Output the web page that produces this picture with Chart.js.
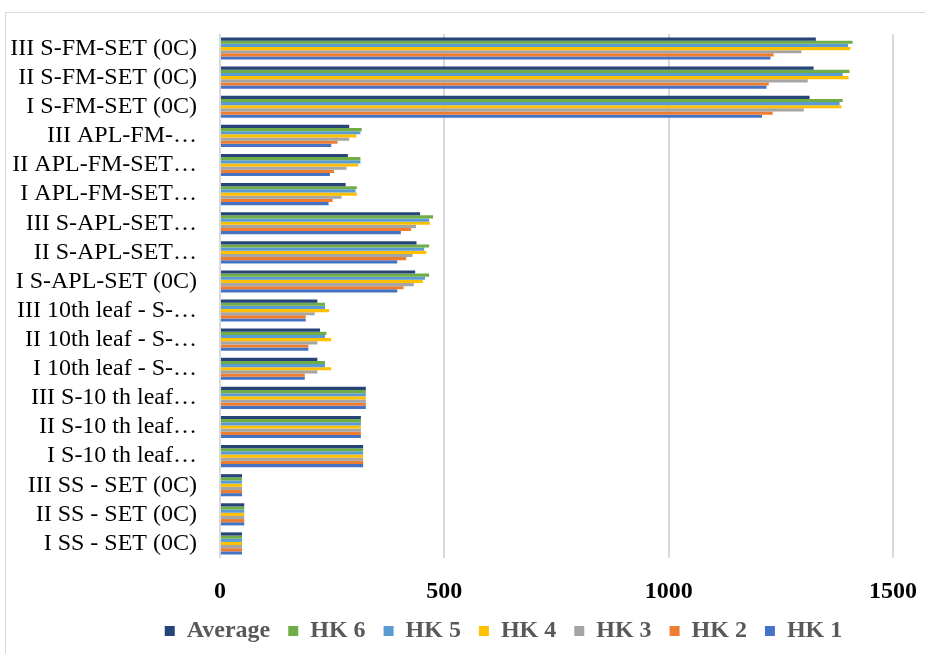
<!DOCTYPE html>
<html>
<head>
<meta charset="utf-8">
<script src="https://cdn.jsdelivr.net/npm/chart.js@4/dist/chart.umd.min.js"></script>
<style>
  html, body { margin: 0; padding: 0; background: #ffffff; overflow: hidden; }
  #wrap { position: relative; width: 925px; height: 654px; }
  #frame { position: absolute; left: 5px; top: 12px; width: 1000px; height: 800px;
           border: 1px solid #d9d9d9; box-sizing: border-box; }
  canvas { position: absolute; left: 0; top: 0; }
</style>
</head>
<body>
<div id="wrap">
  <div id="frame"></div>
  <canvas id="chart" width="925" height="654"></canvas>
</div>
<script>
// Sample groups, listed top to bottom
const categories = [
  "III S-FM-SET (0C)", "II S-FM-SET (0C)", "I S-FM-SET (0C)",
  "III APL-FM-…", "II APL-FM-SET…", "I APL-FM-SET…",
  "III S-APL-SET…", "II S-APL-SET…", "I S-APL-SET (0C)",
  "III 10th leaf - S-…", "II 10th leaf - S-…", "I 10th leaf - S-…",
  "III S-10 th leaf…", "II S-10 th leaf…", "I S-10 th leaf…",
  "III SS - SET (0C)", "II SS - SET (0C)", "I SS - SET (0C)"
];

const average = [1328, 1323, 1314, 288, 285, 280, 446, 438, 435, 217, 223, 217, 325, 314, 319, 49, 54, 49];
const hk6     = [1410, 1403, 1388, 316, 313, 305, 475, 466, 466, 234, 237, 234, 325, 314, 319, 49, 54, 49];
const hk5     = [1400, 1388, 1381, 313, 313, 302, 466, 455, 457, 234, 234, 234, 325, 314, 319, 49, 54, 49];
const hk4     = [1405, 1401, 1385, 304, 308, 305, 468, 460, 452, 243, 248, 248, 325, 314, 319, 49, 54, 49];
const hk3     = [1296, 1310, 1301, 288, 282, 271, 437, 429, 432, 211, 217, 217, 325, 314, 319, 49, 54, 49];
const hk2     = [1234, 1223, 1232, 262, 254, 251, 426, 415, 409, 191, 197, 189, 325, 314, 319, 49, 54, 49];
const hk1     = [1227, 1218, 1208, 248, 245, 242, 403, 395, 395, 191, 197, 189, 325, 314, 319, 49, 54, 49];

const seriesNames = ["Average", "HK 6", "HK 5", "HK 4", "HK 3", "HK 2", "HK 1"];
const seriesValues = [average, hk6, hk5, hk4, hk3, hk2, hk1];
const seriesColors = ["#264478", "#70AD47", "#5B9BD5", "#FFC000", "#A5A5A5", "#ED7D31", "#4472C4"];

const xTicks = [0, 500, 1000, 1500];

const LEGEND_HEIGHT = 53;   // fixed legend band height
const LEGEND_SHIFT = 57;    // legend row sits right of the canvas centre

// Gives the legend a fixed height and moves its row sideways
const legendPlacer = {
  id: "legendPlacer",
  beforeLayout(chart) {
    const lg = chart.legend;
    if (lg && !lg._fixedFit) {
      const origFit = lg.fit.bind(lg);
      lg.fit = function () { origFit(); this.height = LEGEND_HEIGHT; };
      lg._fixedFit = true;
    }
  },
  afterLayout(chart) {
    const lg = chart.legend;
    if (lg) { lg.left += LEGEND_SHIFT; lg.right += LEGEND_SHIFT; }
  }
};

const datasets = seriesNames.map((name, i) => ({
  label: name,
  data: seriesValues[i],
  backgroundColor: seriesColors[i],
  borderWidth: 0,
  categoryPercentage: 0.76,
  barPercentage: 1.0
}));

new Chart(document.getElementById("chart"), {
  type: "bar",
  data: { labels: categories, datasets },
  plugins: [legendPlacer],
  options: {
    indexAxis: "y",
    responsive: false,
    animation: false,
    layout: { padding: { top: 34, right: 32, left: 0, bottom: 0 } },
    scales: {
      x: {
        min: 0, max: 1500,
        afterBuildTicks: (scale) => { scale.ticks = xTicks.map(v => ({ value: v })); },
        grid: { color: "#d9d9d9", lineWidth: 2, drawTicks: false },
        border: { display: false },
        ticks: {
          padding: 19,
          color: "#000000",
          callback: (v) => String(v),
          font: { family: "Liberation Serif", size: 24, weight: "bold" }
        },
        afterFit: (scale) => {
          scale.height = 43;
          scale.paddingLeft = 0;
          scale.paddingRight = 0;
        }
      },
      y: {
        grid: { display: false },
        border: { display: false },
        ticks: {
          padding: 15,
          color: "#000000",
          autoSkip: false,
          font: { family: "Liberation Serif", size: 24 }
        },
        afterFit: (scale) => { scale.width = 220; }
      }
    },
    plugins: {
      legend: {
        position: "bottom",
        labels: {
          boxWidth: 10,
          boxHeight: 10,
          padding: 18,
          color: "#595959",
          font: { family: "Liberation Serif", size: 24, weight: "bold" }
        }
      },
      tooltip: { enabled: false }
    }
  }
});
</script>
</body>
</html>
